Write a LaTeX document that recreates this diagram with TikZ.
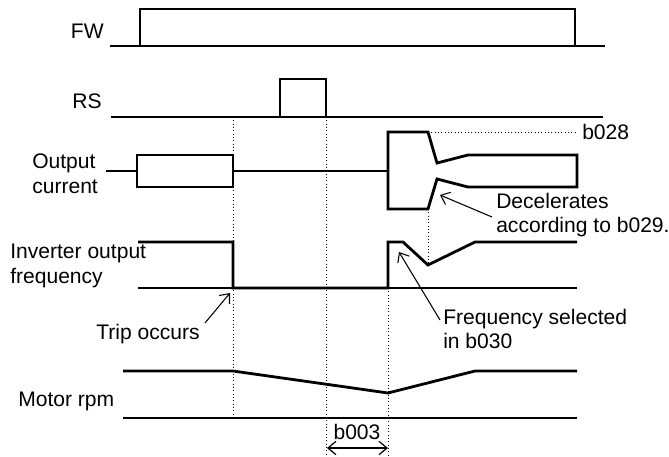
\documentclass[tikz,border=0pt]{standalone}
\usepackage{fontspec}
\setmainfont{Liberation Sans}
\usepackage{tikz}
\usetikzlibrary{arrows.meta,calc,positioning}
\tikzset{
    sigline/.style={line width=2.1pt,draw=black,line join=miter},
    baseln/.style={line width=0.8pt,draw=black},
    guide/.style={line width=0.5pt,draw=black,dotted},
    callout/.style={line width=0.8pt,draw=black,-{Straight Barb[length=6pt,width=10pt]}},
    lbl/.style={inner sep=0pt,font=\fontsize{15.8}{18.6}\selectfont,align=left},
    every node/.style={text=black}
}
\begin{document}
\begin{tikzpicture}[x=0.75pt,y=-0.75pt]
  \useasboundingbox (0,0) rectangle (669,457);

  % 时刻
  \coordinate (T0) at (233,0);
  \coordinate (T1) at (326,0);
  \coordinate (T2) at (388,0);
  \coordinate (T3) at (428,0);

  % 信号名
  \node[lbl,anchor=east] (fw) at (104,31) {FW};
  \node[lbl,anchor=east] (rs) at (102,101) {RS};
  \node[lbl,anchor=west] (cur) at (32,174) {Output\\current};
  \node[lbl,anchor=west] (frq) at (10,266) {Inverter output\\frequency};
  \node[lbl,anchor=west] (mot) at (18,401) {Motor rpm};

  % 虚线
  \draw[guide] (233,117) -- (233,414);
  \draw[guide] (326,117) -- (326,457);
  \draw[guide] (388,288) -- (388,457);
  \draw[guide] (428,209) -- (428,265);
  \draw[guide] (428,132) -- (576,132);

  % FW
  \draw[baseln] (140,46) -- (575,46);
  \draw[sigline] (110,46) -- (140,46) -- (140,9) -- (575,9) -- (575,46) -- (605,46);

  % RS
  \draw[baseln] (280,117) -- (326,117);
  \draw[sigline] (111,117) -- (280,117) -- (280,79) -- (326,79) -- (326,117) -- (603,117);

  % 输出电流
  \draw[sigline] (106,171) -- (137,171);
  \draw[sigline] (137,155) rectangle (233,187);
  \draw[sigline] (233,171) -- (388,171);
  \draw[sigline] (388,132) -- (428,132) -- (437,163) -- (468,155) -- (577,155)
    -- (577,187) -- (468,187) -- (437,179) -- (428,209) -- (388,209) -- cycle;

  % 输出频率
  \draw[baseln] (138,288) -- (577,288);
  \draw[sigline] (138,242) -- (233,242) -- (233,288) -- (388,288) -- (388,242)
    -- (403,242) -- (428,265) -- (475,242) -- (577,242);

  % 电机转速
  \draw[baseln] (123,418) -- (577,418);
  \draw[sigline] (123,371) -- (233,371) -- (388,393) -- (475,371) -- (577,371);

  % 说明
  \node[lbl,anchor=west] (b028) at (582,132) {b028};
  \node[lbl,anchor=west] (dec) at (496,215) {Decelerates\\according to b029.};
  \node[lbl,anchor=west] (sel) at (443,329) {Frequency selected\\in b030};
  \node[lbl,anchor=east] (trip) at (200,334) {Trip occurs};
  \node[lbl] (b003) at (357,432) {b003};

  \coordinate (decTail) at (492,217);
  \coordinate (decTip) at (440,195);
  \coordinate (selTail) at (440,320);
  \coordinate (selTip) at (399,252);
  \coordinate (tripTail) at (205,323);
  \coordinate (tripTip) at (230,293);
  \coordinate (dL) at (327,448);
  \coordinate (dR) at (388,448);

  \draw[callout] (decTail) -- (decTip);
  \draw[callout] (selTail) -- (selTip);
  \draw[callout] (tripTail) -- (tripTip);
  \draw[line width=0.9pt,{Straight Barb[length=6pt,width=10pt]}-{Straight Barb[length=6pt,width=10pt]}]
    (dL) -- (dR);
\end{tikzpicture}
\end{document}
